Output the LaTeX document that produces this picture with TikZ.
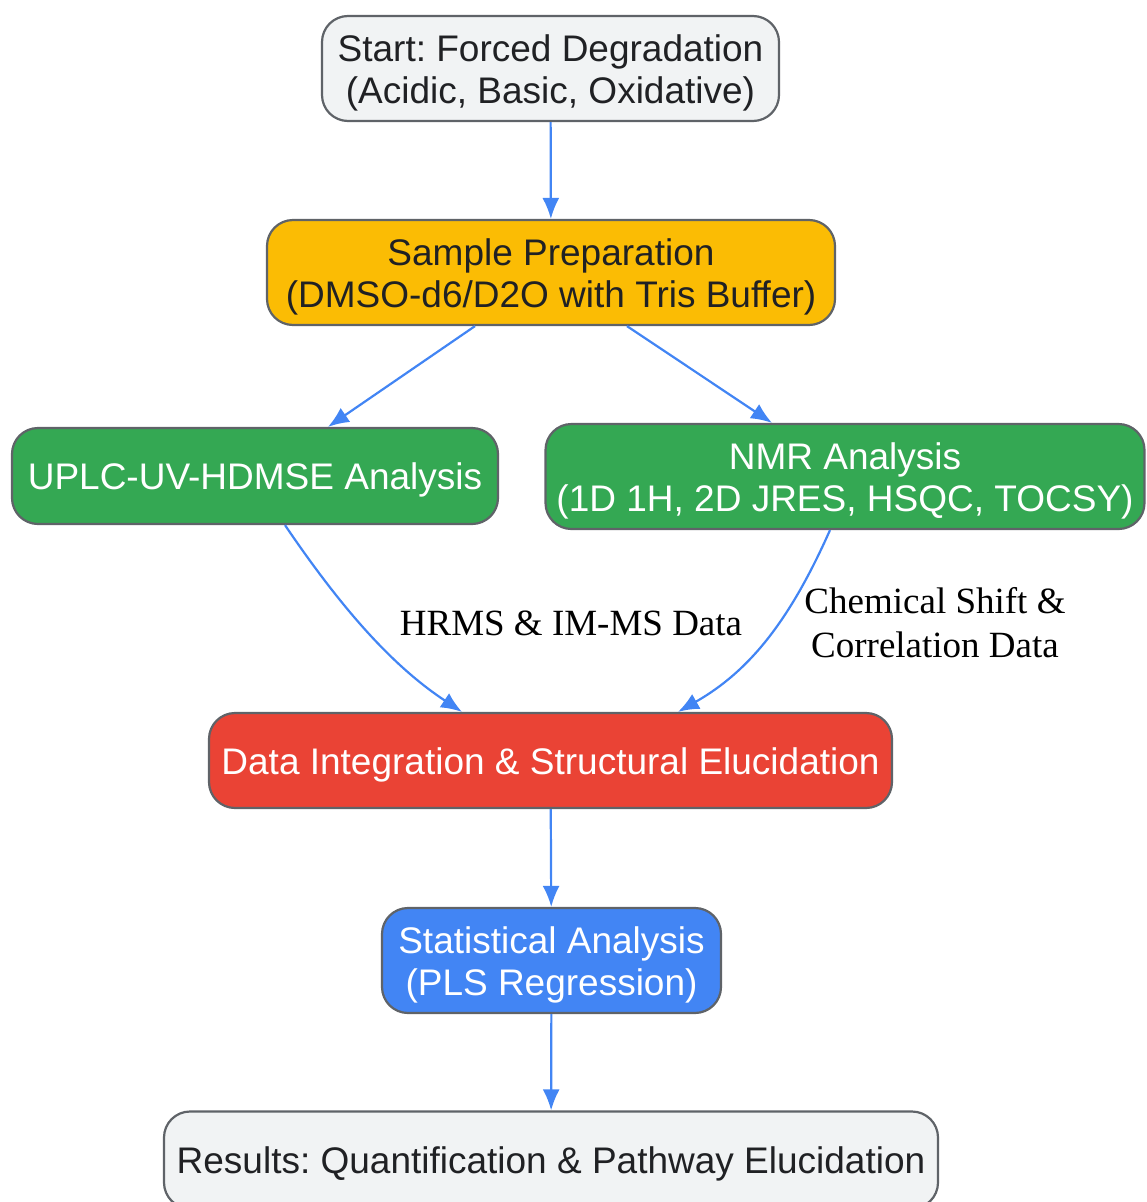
\documentclass[tikz,border=0pt]{standalone}
\usepackage{fontspec}
\setmainfont{Liberation Serif}
\newfontfamily\boxfont{Liberation Sans}
\usetikzlibrary{arrows.meta, positioning, calc}
\frenchspacing
\newcommand{\topstrut}{\rule{0pt}{36pt}}

\definecolor{edgegray}{HTML}{5F6368}
\definecolor{textdark}{HTML}{202124}
\definecolor{startgray}{HTML}{F1F3F4}
\definecolor{prepyellow}{HTML}{FBBC04}
\definecolor{anagreen}{HTML}{34A853}
\definecolor{intred}{HTML}{EA4335}
\definecolor{statblue}{HTML}{4285F4}

\begin{document}
\begin{tikzpicture}[
    x=1pt, y=-1pt,
    block/.style = {rectangle, draw=edgegray, line width=2.2pt, rounded corners=26pt,
                    align=center, inner sep=0pt, text=textdark,
                    font=\boxfont\fontsize{37}{42}\selectfont,
                    execute at begin node={\rule{0pt}{35pt}},
                    execute at end node={\rule[-6pt]{0pt}{6pt}}},
    light/.style = {block, text=white},
    lbl/.style   = {align=center, inner sep=0pt, text=black,
                    font=\fontsize{37}{44}\selectfont},
    arrow/.style = {line width=2.2pt, statblue, -{Latex[length=21pt,width=17pt]}}
]
\useasboundingbox (0,0) rectangle (1146,1202);

% =====================
% Nodes (top to bottom)
% =====================

% Start
\node[block, fill=startgray, minimum width=457pt, minimum height=105pt]
    (start) at (550.5,68.5) {\topstrut Start: Forced Degradation\\(Acidic, Basic, Oxidative)};

% Sample preparation
\node[block, fill=prepyellow, minimum width=568pt, minimum height=105pt]
    (prep) at (551,272.5) {\topstrut Sample Preparation\\(DMSO-d6/D2O with Tris Buffer)};

% Two analyses
\node[light, fill=anagreen, minimum width=486pt, minimum height=96pt]
    (uplc) at (255,476) {UPLC-UV-HDMSE Analysis};
\node[light, fill=anagreen, minimum width=599pt, minimum height=105pt]
    (nmr) at (845,476.5) {\topstrut NMR Analysis\\(1D 1H, 2D JRES, HSQC, TOCSY)};

% Integration
\node[light, fill=intred, minimum width=683pt, minimum height=95pt]
    (integ) at (550.5,760.5) {Data Integration \& Structural Elucidation};

% Statistics
\node[light, fill=statblue, minimum width=339pt, minimum height=105pt]
    (stats) at (551.5,960.5) {\topstrut Statistical Analysis\\(PLS Regression)};

% Results
\node[block, fill=startgray, minimum width=774pt, minimum height=97pt]
    (results) at (551,1160) {Results: Quantification \& Pathway Elucidation};

% Edge labels
\node[lbl] (mslbl) at (571,623) {HRMS \& IM-MS Data};
\node[lbl] (nmrlbl) at (935,623) {Chemical Shift \&\\Correlation Data};

% ====================================
% Connections
% ====================================

\draw[arrow] (start) -- (prep);

\draw[arrow] ([xshift=-76pt]prep.south) -- ([xshift=73pt]uplc.north);
\draw[arrow] ([xshift=76pt]prep.south) -- ([xshift=-73pt]nmr.north);

\draw[arrow] ([xshift=30pt]uplc.south) .. controls +(65,96) and +(-62,-41) .. ([xshift=-88.5pt]integ.north);
\draw[arrow] ([xshift=-15pt]nmr.south) .. controls +(-40,90) and +(72,-41) .. ([xshift=127.5pt]integ.north);

\draw[arrow] (integ) -- (stats);
\draw[arrow] (stats) -- (results);

\end{tikzpicture}
\end{document}
